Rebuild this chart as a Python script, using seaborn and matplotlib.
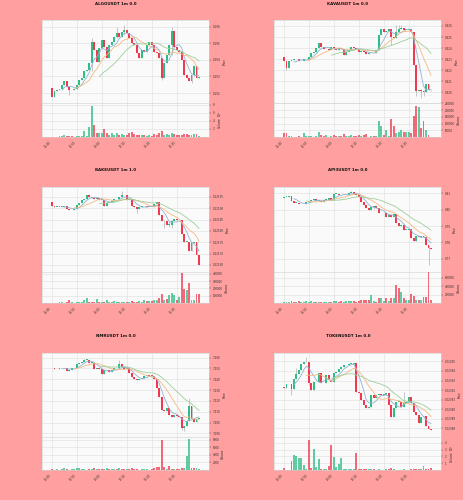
import numpy as np
import pandas as pd
import matplotlib
matplotlib.use("Agg")
import matplotlib.pyplot as plt
import seaborn as sns

sns.set_theme(style="whitegrid")
plt.rcParams['font.family'] = ['DejaVu Sans']

BG = "#ff9f9f"
UP = "#2ebd85"
DOWN = "#f0394f"
MA_COLORS = ["#8fb4d6", "#f2b983", "#9ccf9a"]
MA_PERIODS = [5, 10, 20]

time_labels = ["12:40", "12:50", "13:00", "13:10", "13:20", "13:30"]

# ---------------- ALGOUSDT ----------------
algo_open0 = 0.1923
algo_close = [0.19176, 0.1921, 0.1922, 0.19224, 0.1925, 0.1927, 0.19236, 0.1922, 0.19216, 0.19224,
              0.1925, 0.1928, 0.1929, 0.1933, 0.1934, 0.1938, 0.1951, 0.1946, 0.1939, 0.1947,
              0.1952, 0.1948, 0.1941, 0.1949, 0.1951, 0.1954, 0.1956, 0.1954, 0.1957, 0.1958,
              0.1956, 0.1953, 0.1950, 0.1949, 0.1944, 0.1941, 0.1946, 0.1945, 0.1949, 0.1951,
              0.1949, 0.1945, 0.1944, 0.1941, 0.1929, 0.1938, 0.1943, 0.1949, 0.19576, 0.1948,
              0.1946, 0.1945, 0.1940, 0.1931, 0.1929, 0.1927, 0.1931, 0.1936, 0.1929, 0.19294]
algo_vol = [10000, 10000, 10000, 20000, 30000, 40000, 30000, 20000, 30000, 10000,
            20000, 20000, 30000, 150000, 30000, 240000, 780000, 290000, 90000, 90000,
            90000, 200000, 100000, 60000, 90000, 50000, 100000, 60000, 80000, 60000,
            40000, 90000, 120000, 80000, 40000, 60000, 50000, 40000, 30000, 60000,
            30000, 80000, 40000, 90000, 140000, 50000, 80000, 60000, 100000, 70000,
            50000, 60000, 50000, 80000, 70000, 60000, 60000, 70000, 80000, 20000]
algo_wicks = {7: (0.19236, 0.1919), 16: (0.1953, 0.1933), 26: (0.1960, 0.1953),
              29: (0.1961, 0.1955), 44: (0.1941, 0.1928), 48: (0.1960, 0.1943),
              56: (0.1931, 0.1926), 57: (0.1937, 0.1930)}
algo_pticks = [0.192, 0.193, 0.194, 0.195, 0.196]
algo_vticks = [200000, 400000, 600000, 800000]
algo_vlabels = ["2", "4", "6", "8"]

# ---------------- KAVAUSDT ----------------
kava_open0 = 0.42318
kava_close = [0.42279, 0.42219, 0.42279, 0.42294, 0.42300, 0.42303, 0.42285, 0.42279, 0.42300, 0.42306,
              0.42318, 0.42354, 0.42369, 0.42399, 0.42444, 0.42414, 0.42390, 0.42390, 0.42384, 0.42414,
              0.42393, 0.42384, 0.42399, 0.42390, 0.42339, 0.42369, 0.42384, 0.42414, 0.42405, 0.42393,
              0.42369, 0.42375, 0.42363, 0.42345, 0.42354, 0.42360, 0.42354, 0.42384, 0.42519, 0.42570,
              0.42543, 0.42558, 0.42570, 0.42504, 0.42489, 0.42549, 0.42576, 0.42579, 0.42564, 0.42564,
              0.42576, 0.42549, 0.42249, 0.42009, 0.42018, 0.42009, 0.42000, 0.42078, 0.42018, 0.42015]
kava_vol = [27000, 30000, 5000, 5000, 3000, 3000, 5000, 3000, 30000, 5000,
            5000, 5000, 3000, 8000, 35000, 12000, 5000, 15000, 3000, 10000,
            18000, 5000, 8000, 10000, 25000, 8000, 5000, 15000, 5000, 5000,
            12000, 5000, 15000, 25000, 3000, 5000, 5000, 8000, 120000, 82000,
            12000, 52000, 10000, 135000, 78000, 32000, 40000, 52000, 35000, 35000,
            35000, 30000, 157000, 232000, 222000, 65000, 122000, 52000, 15000, 2000]
kava_wicks = {1: (0.42279, 0.42204), 43: (0.42570, 0.42429), 45: (0.42606, 0.42489),
              46: (0.42612, 0.42549), 47: (0.42606, 0.42570), 53: (0.42249, 0.41964),
              55: (0.42030, 0.41949), 56: (0.42020, 0.41970)}
kava_pticks = [0.420, 0.421, 0.422, 0.423, 0.424, 0.425, 0.426]
kava_vticks = [50000, 100000, 150000, 200000, 250000]
kava_vlabels = ["50000", "100000", "150000", "200000", "250000"]

# ---------------- BAKEUSDT ----------------
bake_open0 = 0.121928
bake_close = [0.12191, 0.121906, 0.121906, 0.121906, 0.121906, 0.121909, 0.121899, 0.121891, 0.121891, 0.121896,
              0.121916, 0.121925, 0.121938, 0.121943, 0.121957, 0.12195, 0.121947, 0.12194, 0.121947, 0.121938,
              0.121938, 0.12191, 0.121925, 0.121928, 0.121932, 0.12194, 0.121943, 0.12195, 0.121957, 0.121957,
              0.121938, 0.121943, 0.12191, 0.121906, 0.121896, 0.121906, 0.12191, 0.12191, 0.121906, 0.121907,
              0.121906, 0.12192, 0.121928, 0.121872, 0.121843, 0.121843, 0.121828, 0.121828, 0.121843, 0.121855,
              0.121847, 0.12185, 0.121788, 0.121752, 0.121752, 0.12171, 0.121749, 0.121752, 0.121693, 0.121652]
bake_vol = [5000, 5000, 5000, 10000, 15000, 5000, 10000, 40000, 10000, 5000,
            10000, 10000, 15000, 40000, 70000, 10000, 10000, 15000, 50000, 10000,
            10000, 15000, 40000, 10000, 10000, 25000, 15000, 10000, 15000, 20000,
            15000, 20000, 30000, 15000, 20000, 25000, 20000, 35000, 25000, 30000,
            25000, 35000, 45000, 70000, 120000, 40000, 55000, 110000, 140000, 110000,
            45000, 85000, 410000, 190000, 180000, 270000, 40000, 40000, 120000, 120000]
bake_wicks = {28: (0.121975, 0.121950), 34: (0.121906, 0.121880), 45: (0.121850, 0.121815),
              47: (0.121843, 0.121818), 48: (0.121850, 0.121815)}
bake_pticks = [0.12165, 0.12170, 0.12175, 0.12180, 0.12185, 0.12190, 0.12195]
bake_vticks = [100000, 200000, 300000, 400000]
bake_vlabels = ["100000", "200000", "300000", "400000"]

# ---------------- API3USDT ----------------
api3_open0 = 0.80738
api3_close = [0.80778, 0.80778, 0.80839, 0.80536, 0.80435, 0.80435, 0.80334, 0.80334, 0.80374, 0.80475,
              0.80536, 0.80576, 0.80677, 0.80556, 0.80556, 0.80475, 0.80596, 0.80616, 0.80697, 0.80576,
              0.80980, 0.80980, 0.80919, 0.80879, 0.80879, 0.80919, 0.81041, 0.81101, 0.80960, 0.80919,
              0.80778, 0.80475, 0.80273, 0.80071, 0.79970, 0.80172, 0.80212, 0.80111, 0.79768, 0.79768,
              0.79808, 0.79566, 0.79667, 0.79566, 0.79707, 0.79162, 0.79000, 0.79061, 0.78758, 0.78758,
              0.78819, 0.78253, 0.78112, 0.78415, 0.78354, 0.78394, 0.78354, 0.77849, 0.77647, 0.77607]
api3_vol = [30000, 20000, 30000, 40000, 30000, 20000, 40000, 20000, 30000, 40000,
            30000, 50000, 30000, 30000, 20000, 30000, 30000, 20000, 20000, 30000,
            50000, 40000, 30000, 40000, 30000, 40000, 50000, 40000, 50000, 30000,
            50000, 60000, 60000, 80000, 60000, 190000, 50000, 30000, 130000, 110000,
            50000, 110000, 40000, 130000, 130000, 430000, 350000, 260000, 110000, 60000,
            80000, 215000, 170000, 60000, 60000, 60000, 140000, 140000, 730000, 70000]
api3_wicks = {27: (0.81140, 0.81041), 36: (0.80212, 0.80010), 58: (0.77849, 0.76637)}
api3_pticks = [0.77, 0.78, 0.79, 0.80, 0.81]
api3_vticks = [200000, 400000, 600000]
api3_vlabels = ["200000", "400000", "600000"]

# ---------------- NMRUSDT ----------------
nmr_open0 = 7.2505
nmr_close = [7.2500, 7.2493, 7.2493, 7.2500, 7.2500, 7.2508, 7.2478, 7.2484, 7.2500, 7.2508,
             7.2539, 7.2554, 7.2560, 7.2582, 7.2582, 7.2554, 7.2554, 7.2493, 7.2505, 7.2493,
             7.2447, 7.2484, 7.2484, 7.2469, 7.2484, 7.2502, 7.2500, 7.2539, 7.2514, 7.2493,
             7.2500, 7.2462, 7.2417, 7.2398, 7.2392, 7.2407, 7.2414, 7.2429, 7.2438, 7.2432,
             7.2429, 7.2401, 7.2316, 7.2239, 7.2117, 7.2102, 7.2132, 7.2071, 7.2050, 7.2071,
             7.2062, 7.2050, 7.1949, 7.1964, 7.2010, 7.2154, 7.2031, 7.2001, 7.2031, 7.2040]
nmr_vol = [200, 100, 300, 100, 200, 500, 300, 100, 200, 300,
           400, 600, 200, 300, 100, 200, 300, 400, 300, 200,
           300, 200, 400, 300, 200, 300, 200, 500, 300, 200,
           300, 200, 400, 200, 300, 100, 200, 300, 200, 100,
           300, 400, 800, 900, 8000, 700, 300, 1100, 300, 200,
           300, 200, 500, 600, 3700, 8200, 600, 400, 500, 200]
nmr_wicks = {13: (7.2590, 7.2560), 27: (7.2578, 7.2500), 53: (7.1964, 7.1918),
             55: (7.2224, 7.2010), 52: (7.2050, 7.1930)}
nmr_pticks = [7.19, 7.20, 7.21, 7.22, 7.23, 7.24, 7.25, 7.26]
nmr_vticks = [2000, 4000, 6000, 8000]
nmr_vlabels = ["2000", "4000", "6000", "8000"]

# ---------------- TOKENUSDT ----------------
token_open0 = 0.0239235
token_close = [0.0239224, 0.0239262, 0.0239262, 0.0239211, 0.0239321, 0.0239373, 0.0239414, 0.0239476, 0.0239493, 0.0239493,
               0.0239269, 0.0239200, 0.0239280, 0.0239280, 0.0239380, 0.0239269, 0.0239269, 0.0239362, 0.0239304, 0.0239287,
               0.0239383, 0.0239390, 0.0239424, 0.0239442, 0.0239459, 0.0239466, 0.0239476, 0.0239476, 0.0239483, 0.0239183,
               0.0239166, 0.0239097, 0.0239045, 0.0239011, 0.0239021, 0.0239149, 0.0239114, 0.0239149, 0.0239156, 0.0239149,
               0.0239149, 0.0239166, 0.0239045, 0.0238918, 0.0239011, 0.0239080, 0.0239080, 0.0239021, 0.0239062, 0.0239073,
               0.0239131, 0.0239069, 0.0238976, 0.0238942, 0.0238862, 0.0238918, 0.0238925, 0.0238821, 0.0238797, 0.0238780]
token_vol = [35000, 5000, 5000, 130000, 220000, 205000, 170000, 170000, 80000, 20000,
             445000, 35000, 305000, 45000, 155000, 20000, 15000, 10000, 55000, 370000,
             195000, 40000, 90000, 170000, 20000, 10000, 10000, 10000, 10000, 245000,
             15000, 10000, 15000, 10000, 15000, 10000, 10000, 5000, 10000, 5000,
             5000, 15000, 10000, 30000, 10000, 5000, 5000, 5000, 10000, 5000,
             5000, 10000, 10000, 15000, 15000, 20000, 60000, 15000, 20000, 25000]
token_wicks = {3: (0.0239262, 0.0239149), 5: (0.0239435, 0.0239321), 9: (0.0239545, 0.0239493),
               48: (0.0239183, 0.0239021), 10: (0.0239493, 0.0239250)}
token_pticks = [0.02388, 0.02389, 0.02390, 0.02391, 0.02392, 0.02393, 0.02394, 0.02395]
token_vticks = [100000, 200000, 300000, 400000]
token_vlabels = ["1", "2", "3", "4"]

charts = [
    dict(title="ALGOUSDT 1m 0.0", o0=algo_open0, c=algo_close, v=algo_vol, w=algo_wicks,
         pt=algo_pticks, pf="%.3f", pyl=(0.1914, 0.1964), vt=algo_vticks, vl=algo_vlabels,
         vyl=(0, 850000), vlab="Volume  $10^{5}$"),
    dict(title="KAVAUSDT 1m 0.0", o0=kava_open0, c=kava_close, v=kava_vol, w=kava_wicks,
         pt=kava_pticks, pf="%.3f", pyl=(0.41904, 0.42654), vt=kava_vticks, vl=kava_vlabels,
         vyl=(0, 252000), vlab="Volume"),
    dict(title="BAKEUSDT 1m 1.0", o0=bake_open0, c=bake_close, v=bake_vol, w=bake_wicks,
         pt=bake_pticks, pf="%.5f", pyl=(0.121619, 0.121994), vt=bake_vticks, vl=bake_vlabels,
         vyl=(0, 427000), vlab="Volume"),
    dict(title="API3USDT 1m 0.0", o0=api3_open0, c=api3_close, v=api3_vol, w=api3_wicks,
         pt=api3_pticks, pf="%.2f", pyl=(0.76193, 0.81384), vt=api3_vticks, vl=api3_vlabels,
         vyl=(0, 736000), vlab="Volume"),
    dict(title="NMRUSDT 1m 0.0", o0=nmr_open0, c=nmr_close, v=nmr_vol, w=nmr_wicks,
         pt=nmr_pticks, pf="%.3f", pyl=(7.18661, 7.26428), vt=nmr_vticks, vl=nmr_vlabels,
         vyl=(0, 8711), vlab="Volume"),
    dict(title="TOKENUSDT 1m 0.0", o0=token_open0, c=token_close, v=token_vol, w=token_wicks,
         pt=token_pticks, pf="%.5f", pyl=(0.0238711, 0.0239587), vt=token_vticks, vl=token_vlabels,
         vyl=(0, 485000), vlab="Volume  $10^{5}$"),
]

W, H = 464, 500
fig = plt.figure(figsize=(W / 100, H / 100), dpi=100, facecolor=BG)
col_left = [42, 274]
axw = 167
rows = [(20, 103, 137), (187, 272, 303), (353, 437, 470)]
title_y = [4, 170, 336]
title_x = [116, 348]
FS = 2.0


def style_ax(ax):
    ax.set_facecolor("#fafafa")
    ax.grid(True, color="#dedede", linewidth=0.4)
    for s in ax.spines.values():
        s.set_color("#d0d0d0")
        s.set_linewidth(0.4)
    ax.tick_params(axis="both", labelsize=FS, length=1.2, width=0.3, pad=1.5,
                   colors="#333333", direction="out")


for k, ch in enumerate(charts):
    r, cidx = divmod(k, 2)
    pt, pb, vb = rows[r]
    left = col_left[cidx] / W
    axp = fig.add_axes([left, 1 - pb / H, axw / W, (pb - pt) / H])
    axv = fig.add_axes([left, 1 - vb / H, axw / W, (vb - pb) / H], sharex=axp)

    close = np.array(ch["c"])
    opens = np.concatenate([[ch["o0"]], close[:-1]])
    idx = np.arange(len(close))
    high = np.maximum(opens, close)
    low = np.minimum(opens, close)
    for i, (hh, ll) in ch["w"].items():
        high[i] = max(high[i], hh)
        low[i] = min(low[i], ll)
    up = close >= opens
    colors = np.where(up, UP, DOWN)

    df = pd.DataFrame({"i": idx, "open": opens, "close": close, "high": high,
                       "low": low, "volume": ch["v"]})
    for p in MA_PERIODS:
        df[f"ma{p}"] = df["close"].rolling(p).mean()

    style_ax(axp)
    style_ax(axv)

    axp.vlines(df["i"], df["low"], df["high"], colors="#a8a8a8", linewidth=0.45, zorder=2)
    body = (df["close"] - df["open"]).values
    rng = ch["pyl"][1] - ch["pyl"][0]
    body = np.where(np.abs(body) < rng * 0.006, rng * 0.006, body)
    axp.bar(df["i"], body, bottom=df["open"], width=0.75, color=colors, zorder=3, linewidth=0)
    for p, col in zip(MA_PERIODS, MA_COLORS):
        sns.lineplot(data=df, x="i", y=f"ma{p}", ax=axp, color=col, linewidth=0.6, zorder=4)

    axv.bar(df["i"], df["volume"], width=0.75, color=colors, alpha=0.75, linewidth=0, zorder=3)

    axp.set_xlim(-4, 63)
    axp.set_ylim(*ch["pyl"])
    axp.set_yticks(ch["pt"])
    axp.set_yticklabels([ch["pf"] % t for t in ch["pt"]])
    axp.yaxis.tick_right()
    axp.yaxis.set_label_position("right")
    axp.set_ylabel("Price", fontsize=FS, labelpad=1.5)
    axp.set_xlabel("")
    axp.tick_params(axis="x", labelbottom=False)

    axv.set_ylim(*ch["vyl"])
    axv.set_yticks(ch["vt"])
    axv.set_yticklabels(ch["vl"])
    axv.yaxis.tick_right()
    axv.yaxis.set_label_position("right")
    axv.set_ylabel(ch["vlab"], fontsize=FS, labelpad=1.5)
    axv.set_xticks([0, 10, 20, 30, 40, 50])
    axv.set_xticklabels(time_labels, rotation=45, ha="right")
    axv.set_xlabel("")

    fig.text(title_x[cidx] / W, 1 - title_y[r] / H, ch["title"], ha="center", va="center",
             fontsize=2.9, fontweight="bold", color="#111111")

fig.savefig("out.png", dpi=100, facecolor=BG)
